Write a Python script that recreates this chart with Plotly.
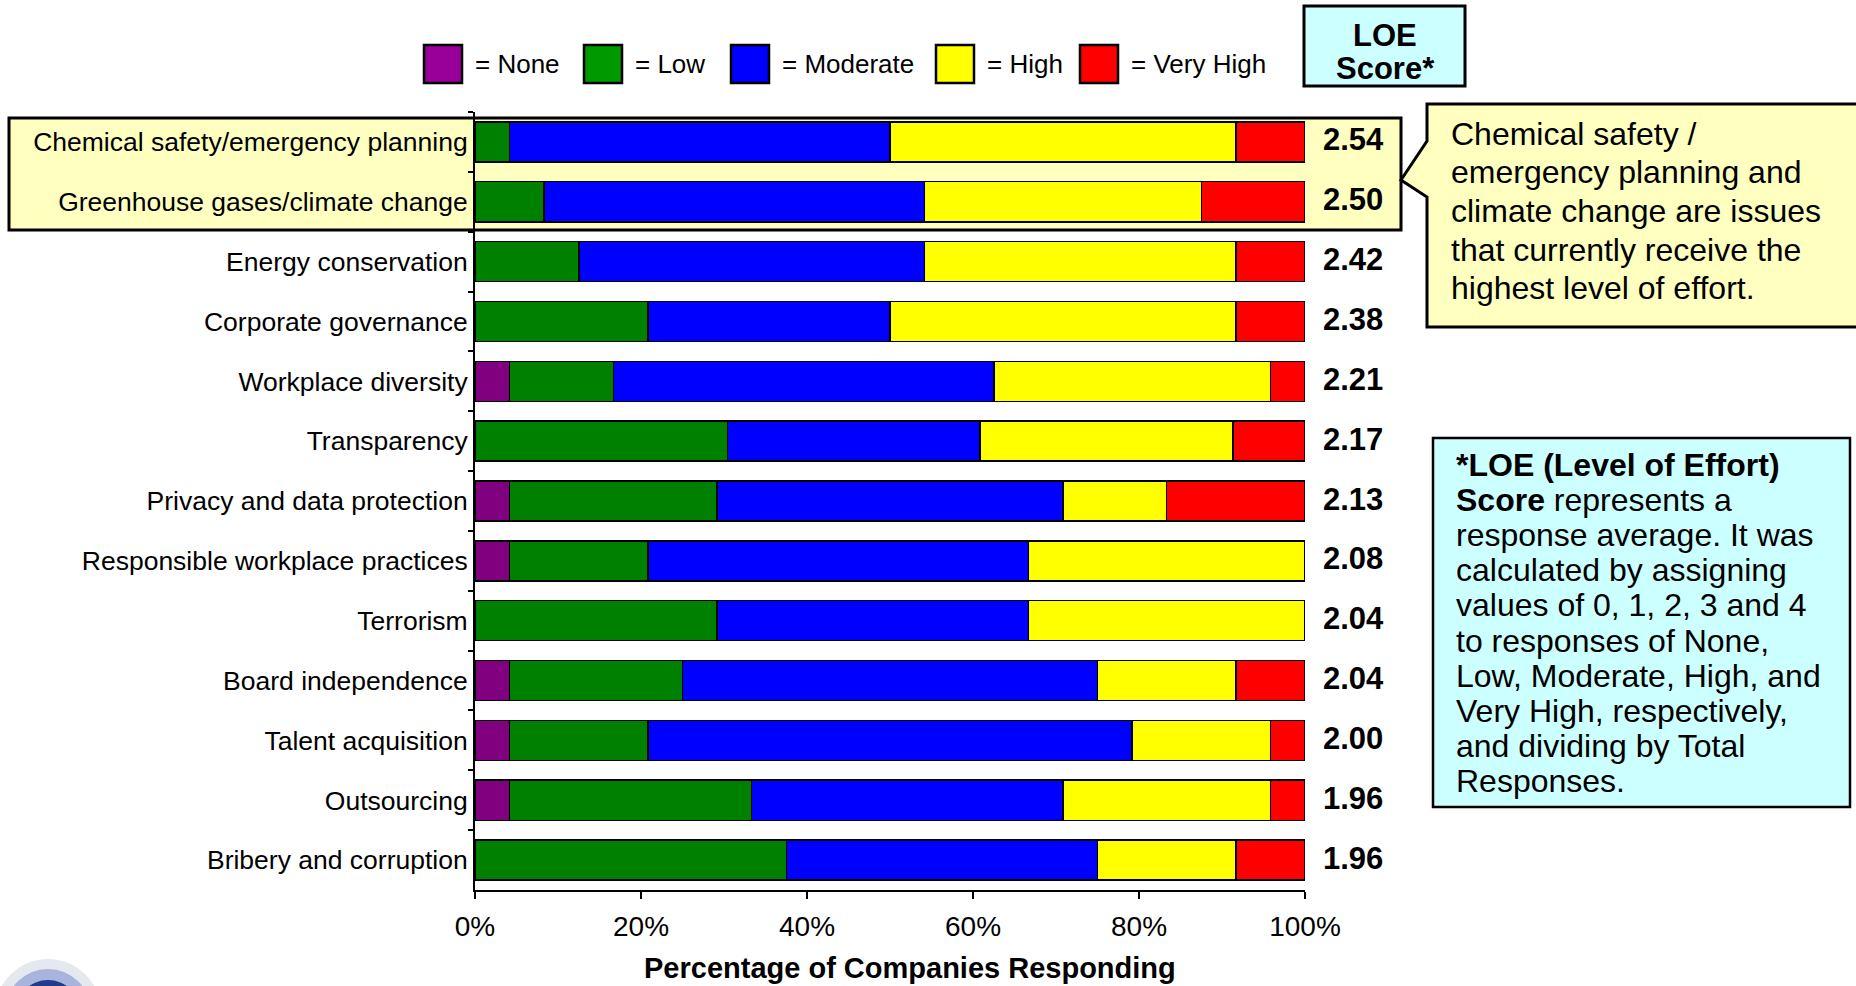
import plotly.graph_objects as go

# Survey: level of effort companies put into each issue (number of responses)
issues = [
    "Chemical safety/emergency planning",
    "Greenhouse gases/climate change",
    "Energy conservation",
    "Corporate governance",
    "Workplace diversity",
    "Transparency",
    "Privacy and data protection",
    "Responsible workplace practices",
    "Terrorism",
    "Board independence",
    "Talent acquisition",
    "Outsourcing",
    "Bribery and corruption",
]
none_n      = [0, 0, 0, 0, 1, 0, 1, 1, 0, 1, 1, 1, 0]
low_n       = [1, 2, 3, 5, 3, 7, 6, 4, 7, 5, 4, 7, 9]
moderate_n  = [11, 11, 10, 7, 11, 7, 10, 11, 9, 12, 14, 9, 9]
high_n      = [10, 8, 9, 10, 8, 7, 3, 8, 8, 4, 4, 6, 4]
very_high_n = [2, 3, 2, 2, 1, 2, 4, 0, 0, 2, 1, 1, 2]
loe_scores  = ["2.54", "2.50", "2.42", "2.38", "2.21", "2.17", "2.13",
               "2.08", "2.04", "2.04", "2.00", "1.96", "1.96"]

levels = ["None", "Low", "Moderate", "High", "Very High"]
bar_colors = ["#800080", "#008000", "#0000FF", "#FFFF00", "#FF0000"]
key_colors = ["#990099", "#009900", "#0000FF", "#FFFF00", "#FF0000"]
x_ticks = [0, 20, 40, 60, 80, 100]

FONT = "Liberation Sans, Arial, Helvetica, sans-serif"
W, H = 1856, 986
L, R, T, B = 475, 1305, 112, 890   # plot area in pixels


def px_x(p):
    return (p - L) / (R - L)


def px_y(p):
    return (B - p) / (B - T)


totals = [a + b + c + d + e for a, b, c, d, e in
          zip(none_n, low_n, moderate_n, high_n, very_high_n)]
counts = [none_n, low_n, moderate_n, high_n, very_high_n]

fig = go.Figure()
for name, color, series in zip(levels, bar_colors, counts):
    fig.add_trace(go.Bar(
        y=issues,
        x=[100.0 * v / t for v, t in zip(series, totals)],
        orientation="h",
        name=name,
        marker=dict(color=color, line=dict(color="black", width=1.5)),
        showlegend=False,
        hoverinfo="skip",
    ))

shapes = []
annotations = []

# highlighted top two issues
shapes.append(dict(type="rect", xref="paper", yref="paper", layer="below",
                   x0=px_x(9), x1=px_x(1401), y0=px_y(230), y1=px_y(118),
                   fillcolor="#FFFFC0", line=dict(color="black", width=3)))

# callout bubble pointing at the highlight
pts = [(1427, 104), (1880, 104), (1880, 327), (1427, 327),
       (1427, 197), (1401, 180), (1427, 141)]
path = "M " + " L ".join(f"{px_x(a):.5f},{px_y(b):.5f}" for a, b in pts) + " Z"
shapes.append(dict(type="path", xref="paper", yref="paper", path=path,
                   fillcolor="#FFFFC0", line=dict(color="black", width=3)))
callout_lines = [
    "Chemical safety /",
    "emergency planning and",
    "climate change are issues",
    "that currently receive the",
    "highest level of effort.",
]
for i, line in enumerate(callout_lines):
    annotations.append(dict(xref="paper", yref="paper", x=px_x(1449),
                            y=px_y(134 + i * 38.5), text=line,
                            xanchor="left", yanchor="middle", showarrow=False,
                            font=dict(family=FONT, size=32, color="black")))

# LOE score header box
shapes.append(dict(type="rect", xref="paper", yref="paper",
                   x0=px_x(1304), x1=px_x(1465), y0=px_y(86), y1=px_y(6),
                   fillcolor="#CCFFFF", line=dict(color="black", width=3)))
for txt, yy in [("<b>LOE</b>", 36), ("<b>Score*</b>", 68)]:
    annotations.append(dict(xref="paper", yref="paper", x=px_x(1385),
                            y=px_y(yy), text=txt, xanchor="center",
                            yanchor="middle", showarrow=False,
                            font=dict(family=FONT, size=31, color="black")))

# explanation box
shapes.append(dict(type="rect", xref="paper", yref="paper",
                   x0=px_x(1433), x1=px_x(1850), y0=px_y(807), y1=px_y(438),
                   fillcolor="#CCFFFF", line=dict(color="black", width=2.5)))
note_lines = [
    "<b>*LOE (Level of Effort)</b>",
    "<b>Score</b> represents a",
    "response average. It was",
    "calculated by assigning",
    "values of 0, 1, 2, 3 and 4",
    "to responses of None,",
    "Low, Moderate, High, and",
    "Very High, respectively,",
    "and dividing by Total",
    "Responses.",
]
for i, line in enumerate(note_lines):
    annotations.append(dict(xref="paper", yref="paper", x=px_x(1454),
                            y=px_y(465 + i * 35.1), text=line,
                            xanchor="left", yanchor="middle", showarrow=False,
                            font=dict(family=FONT, size=32, color="black")))

# colour key
key_left = [424, 584, 731, 936, 1080]
for name, color, x0 in zip(levels, key_colors, key_left):
    shapes.append(dict(type="rect", xref="paper", yref="paper",
                       x0=px_x(x0), x1=px_x(x0 + 38), y0=px_y(83), y1=px_y(45),
                       fillcolor=color, line=dict(color="black", width=2.5)))
    annotations.append(dict(xref="paper", yref="paper", x=px_x(x0 + 49),
                            y=px_y(64), text="= " + name, xanchor="left",
                            yanchor="middle", showarrow=False,
                            font=dict(family=FONT, size=26, color="black")))

# LOE scores beside each bar
for issue, score in zip(issues, loe_scores):
    annotations.append(dict(xref="paper", yref="y", x=px_x(1321), y=issue,
                            text=f"<b>{score}</b>", xanchor="left",
                            yanchor="middle", yshift=2, showarrow=False,
                            font=dict(family=FONT, size=31, color="black")))

# x axis title
annotations.append(dict(xref="paper", yref="paper", x=px_x(910), y=px_y(968),
                        text="<b>Percentage of Companies Responding</b>",
                        xanchor="center", yanchor="middle", showarrow=False,
                        font=dict(family=FONT, size=29, color="black")))

# seal in the lower-left corner
for r, col in [(53, "#E6E8F0"), (43, "#A9B4DC"), (32, "#1F3C8C")]:
    shapes.append(dict(type="circle", xref="paper", yref="paper",
                       x0=px_x(48 - r), x1=px_x(48 + r),
                       y0=px_y(1012 + r), y1=px_y(1012 - r),
                       fillcolor=col, line=dict(width=0)))

fig.update_layout(
    barmode="stack",
    bargap=0.33,
    width=W, height=H, autosize=False,
    margin=dict(l=L, r=W - R, t=T, b=H - B, pad=0),
    paper_bgcolor="white",
    plot_bgcolor="rgba(0,0,0,0)",
    font=dict(family=FONT, color="black"),
    shapes=shapes,
    annotations=annotations,
    xaxis=dict(range=[0, 100], tickvals=x_ticks,
               ticktext=[f"{v}%" for v in x_ticks],
               ticks="outside", ticklen=7, tickwidth=2, tickcolor="black",
               showline=True, linecolor="black", linewidth=2,
               showgrid=False, zeroline=False, ticklabelstandoff=3,
               tickfont=dict(family=FONT, size=28, color="black"),
               fixedrange=True),
    yaxis=dict(autorange="reversed", type="category",
               ticks="outside", ticklen=5, tickwidth=2, tickcolor="black",
               tickson="boundaries",
               showline=True, linecolor="black", linewidth=2,
               showgrid=False, zeroline=False,
               tickfont=dict(family=FONT, size=26.5, color="black"),
               fixedrange=True),
)

fig.write_html("out.html", config={"displayModeBar": False})
